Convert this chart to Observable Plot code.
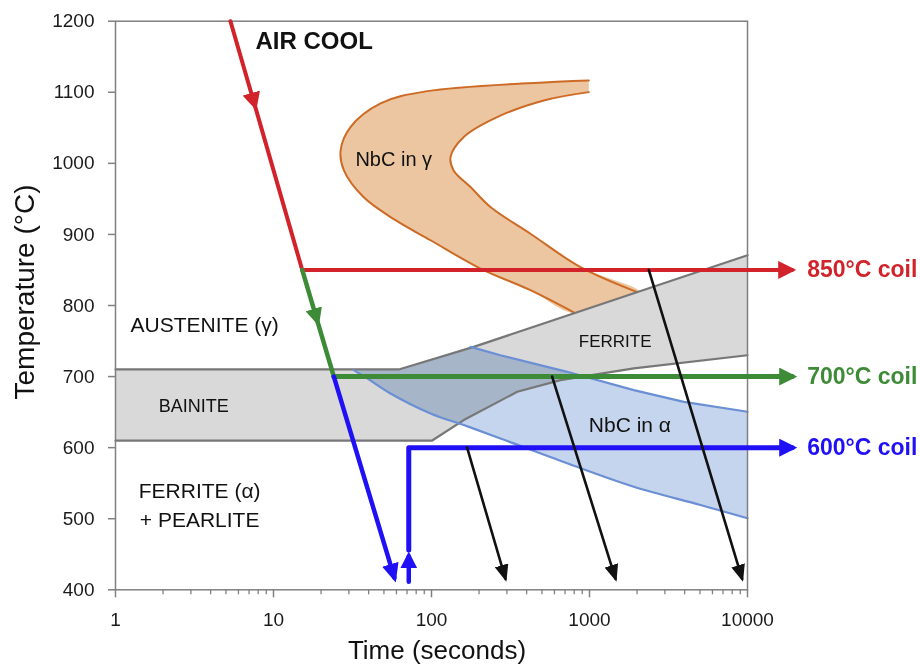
<!DOCTYPE html>
<html>
<head>
<meta charset="utf-8">
<script src="https://cdn.jsdelivr.net/npm/d3@7"></script>
<script src="https://cdn.jsdelivr.net/npm/@observablehq/plot@0.6"></script>
<style>
html,body{margin:0;padding:0;background:#fff;}
#chart svg{display:block;}
</style>
</head>
<body>
<div id="chart"></div>
<script>
// ---------- axes ----------
const xTicks = [1, 10, 100, 1000, 10000];
const xMinorTicks = [2,3,4,5,6,7,8,9, 20,30,40,50,60,70,80,90, 200,300,400,500,600,700,800,900, 2000,3000,4000,5000,6000,7000,8000,9000];
const yTicks = [400, 500, 600, 700, 800, 900, 1000, 1100, 1200];

// ---------- regions (time s, temperature °C) ----------
const nbcGammaOuter = [
  {t:990,T:1116.7},{t:93.9,T:1101.6},{t:47.6,T:1084.3},{t:30.7,T:1051},{t:26.6,T:1018.3},
  {t:27.9,T:990},{t:37.1,T:952.6},{t:59.2,T:920},{t:98.6,T:891.8},{t:204,T:852},
  {t:423,T:821.5},{t:815,T:789}
];
const nbcGammaInner = [
  {t:2103,T:817},{t:877,T:854},{t:423,T:901},{t:236,T:938.6},{t:176.6,T:966.7},
  {t:138,T:990},{t:132,T:1008.9},{t:160,T:1037},{t:260,T:1065},{t:514,T:1088.5},{t:990,T:1100.2}
];
const grayTop = [{t:1,T:710},{t:62.1,T:710},{t:185,T:741.8},{t:10000,T:870.7}];
const grayBottom = [{t:1,T:610},{t:101,T:610},{t:160,T:638.8},{t:349,T:678.6},{t:655,T:695},{t:1907,T:711.5},{t:10000,T:730}];
const blueTopEdge = [{t:32.2,T:709},{t:62.1,T:710},{t:176.6,T:741.8}];
const blueUpper = [{t:176.6,T:741.8},{t:273,T:730},{t:722,T:706.7},{t:1907,T:681},{t:3954,T:664.5},{t:10000,T:650.5}];
const blueLower = [{t:32.2,T:709},{t:39.2,T:697.4},{t:55.0,T:676.3},{t:98.6,T:648.2},{t:160,T:631.8},{t:273,T:613},{t:722,T:578},{t:1907,T:545},{t:5041,T:519.3},{t:10000,T:500.6}];

// ---------- cooling paths ----------
const redCool   = [{t:5.34,T:1200},{t:7.78,T:1074.5},{t:15.2,T:850}];
const redCoil   = [{t:15.2,T:850},{t:19180,T:850}];
const greenCool = [{t:15.2,T:850},{t:19.37,T:771},{t:24.1,T:700}];
const greenCoil = [{t:24.1,T:700},{t:19180,T:700}];
const blueCool  = [{t:24.1,T:700},{t:58.2,T:417}];
const blueJump  = [{t:71.8,T:411.5},{t:71.8,T:447}];
const blueCoil  = [{t:71.8,T:456},{t:71.8,T:600},{t:19180,T:600}];
const slowCool  = [
  {id:1,t:168,T:600},{id:1,t:294,T:415.5},
  {id:2,t:580,T:700},{id:2,t:1462,T:415.5},
  {id:3,t:2373,T:850},{id:3,t:9250,T:415.5}
];

// ---------- labels ----------
const regionLabels = [
  {t:1.245,T:772.3,text:"AUSTENITE (γ)"},
  {t:1.404,T:538.2,text:"FERRITE (α)"},
  {t:1.425,T:498.2,text:"+ PEARLITE"},
  {t:990,T:631.8,text:"NbC in α"}
];
const nbcGammaLabel = [{t:33.0,T:1004.8,text:"NbC in γ"}];
const bainiteLabel = [{t:1.879,T:658.6,text:"BAINITE"}];
const ferriteLabel = [{t:855.5,T:749.4,text:"FERRITE"}];
const airCoolLabel = [{t:7.69,T:1171,text:"AIR COOL"}];
const coilLabelX = 23870;
const coilTemps = [850, 700, 600];
const coilLabels = ["850°C coil", "700°C coil", "600°C coil"];

const FONT = '"Liberation Sans", Arial, Helvetica, sans-serif';
const RED = "#d2232a", GREEN = "#3d8b37", BLUE = "#2010f5", BLACK = "#111111";
const coilColors = [RED, GREEN, BLUE];

function head(len, wid, off) {
  return (color, context) => {
    const ns = "http://www.w3.org/2000/svg";
    const doc = (context && context.document) || document;
    const m = doc.createElementNS(ns, "marker");
    m.setAttribute("viewBox", `${-len} ${-wid / 2} ${len} ${wid}`);
    m.setAttribute("markerUnits", "userSpaceOnUse");
    m.setAttribute("markerWidth", len);
    m.setAttribute("markerHeight", wid);
    m.setAttribute("refX", -off);
    m.setAttribute("refY", 0);
    m.setAttribute("orient", "auto");
    const p = doc.createElementNS(ns, "path");
    p.setAttribute("d", `M0,0L${-len},${-wid / 2}L${-len},${wid / 2}Z`);
    p.setAttribute("fill", color);
    p.setAttribute("stroke", "none");
    m.appendChild(p);
    return m;
  };
}

const xy = {x: "t", y: "T"};
const grayOutline = grayTop.concat(grayBottom.slice().reverse());
const blueOutline = blueTopEdge.concat(blueUpper.slice(1), blueLower.slice().reverse());
const nbcGammaOutline = nbcGammaOuter.concat(nbcGammaInner);

const marks = [
  // NbC in gamma
  Plot.line(nbcGammaOutline, {...xy, fill: "#ecc6a0", stroke: "none", curve: "catmull-rom"}),
  Plot.line(nbcGammaOuter, {...xy, stroke: "#cd6b26", strokeWidth: 2, curve: "catmull-rom"}),
  Plot.line(nbcGammaInner, {...xy, stroke: "#cd6b26", strokeWidth: 2, curve: "catmull-rom"}),
  // bainite / ferrite grey band
  Plot.line(grayOutline, {...xy, fill: "#d9d9d9", stroke: "none"}),
  // NbC in alpha
  Plot.line(blueOutline, {...xy, fill: "#c5d5ed", stroke: "none", mixBlendMode: "multiply"}),
  Plot.line(grayTop, {...xy, stroke: "#777777", strokeWidth: 2.2}),
  Plot.line(grayBottom, {...xy, stroke: "#777777", strokeWidth: 2.2}),
  Plot.line(blueUpper, {...xy, stroke: "#6a8fd4", strokeWidth: 2.2}),
  Plot.line(blueLower, {...xy, stroke: "#6a8fd4", strokeWidth: 2.2, curve: "catmull-rom"}),
  // frame and axes
  Plot.frame({stroke: "#808080", strokeWidth: 1.5}),
  Plot.axisY({ticks: yTicks, tickSize: 7, tickPadding: 14, tickFormat: d => String(d), stroke: "#808080", strokeWidth: 1.5, fill: "#1a1a1a", fontSize: 19, label: null}),
  Plot.axisX({ticks: xTicks, tickSize: 8, tickPadding: 14.4, tickFormat: d => String(d), stroke: "#808080", strokeWidth: 1.5, fill: "#1a1a1a", fontSize: 19, label: null}),
  Plot.axisX({ticks: xMinorTicks, tickSize: 5, tickFormat: () => "", stroke: "#808080", strokeWidth: 1.3, label: null}),
  // cooling paths
  Plot.line(redCool, {...xy, stroke: RED, strokeWidth: 4, strokeLinecap: "round", markerMid: head(18, 18, 0)}),
  Plot.line(redCoil, {...xy, stroke: RED, strokeWidth: 4, markerEnd: head(18, 18, 4)}),
  Plot.line(greenCool, {...xy, stroke: GREEN, strokeWidth: 4.5, strokeLinecap: "round", markerMid: head(18, 17, 0)}),
  Plot.line(greenCoil, {...xy, stroke: GREEN, strokeWidth: 5, markerEnd: head(18, 18, 5)}),
  Plot.line(blueCool, {...xy, stroke: BLUE, strokeWidth: 4.5, markerEnd: head(19, 17, 5)}),
  Plot.line(blueJump, {...xy, stroke: BLUE, strokeWidth: 4.5, markerEnd: head(17, 17, 5)}),
  Plot.line(blueCoil, {...xy, stroke: BLUE, strokeWidth: 5, markerEnd: head(18, 18, 5)}),
  Plot.line(slowCool, {...xy, z: "id", stroke: BLACK, strokeWidth: 2.6, markerEnd: head(17, 14, 3)}),
  // labels
  Plot.text(regionLabels, {...xy, text: "text", textAnchor: "start", fontSize: 21, fill: "#111"}),
  Plot.text(nbcGammaLabel, {...xy, text: "text", textAnchor: "start", fontSize: 20, fill: "#111"}),
  Plot.text(bainiteLabel, {...xy, text: "text", textAnchor: "start", fontSize: 18, fill: "#111"}),
  Plot.text(ferriteLabel, {...xy, text: "text", textAnchor: "start", fontSize: 17, fill: "#111"}),
  Plot.text(airCoolLabel, {...xy, text: "text", textAnchor: "start", fontSize: 24, fontWeight: "bold", fill: "#111"}),
  ...coilLabels.map((label, i) =>
    Plot.text([label], {x: () => coilLabelX, y: () => coilTemps[i], text: d => d, textAnchor: "start", fontSize: 23, fontWeight: "bold", fill: coilColors[i]})
  ),
  Plot.text(["Temperature (°C)"], {frameAnchor: "left", textAnchor: "middle", rotate: -90, dx: -90.5, dy: -13.5, fontSize: 28, fill: "#111"}),
  Plot.text(["Time (seconds)"], {frameAnchor: "bottom", textAnchor: "middle", lineAnchor: "bottom", dx: 5.5, dy: 69.5, fontSize: 26, fill: "#111"})
];

const chart = Plot.plot({
  width: 920,
  height: 665,
  marginLeft: 115,
  marginRight: 173,
  marginTop: 20.7,
  marginBottom: 75.7,
  style: {fontFamily: FONT, fontSize: "19px", color: "#1a1a1a", background: "#fff", overflow: "visible"},
  x: {type: "log", domain: [1, 10000], axis: null},
  y: {domain: [400, 1200], axis: null},
  marks
});
document.getElementById("chart").appendChild(chart);
</script>
</body>
</html>
